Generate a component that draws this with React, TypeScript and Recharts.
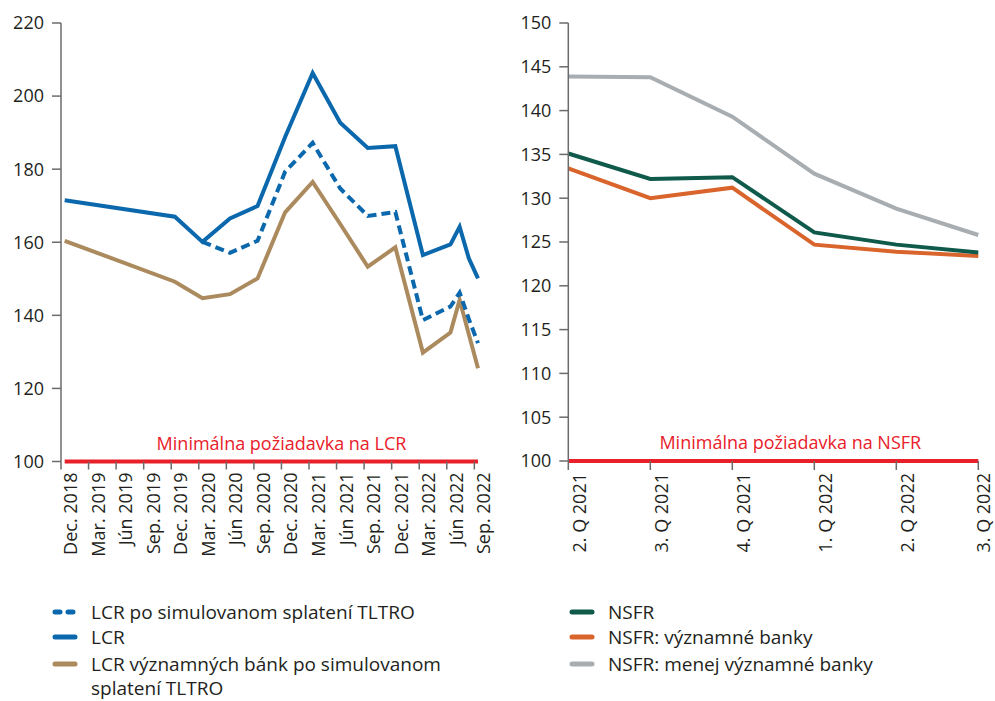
import React from 'react';
import { LineChart, Line, XAxis, YAxis, ReferenceLine } from 'recharts';

// ---------- LCR (left) ----------
const lcrPeriods = ['Dec. 2018', 'Dec. 2019', 'Mar. 2020', 'Jún 2020', 'Sep. 2020', 'Dec. 2020', 'Mar. 2021', 'Jún 2021', 'Sep. 2021', 'Dec. 2021', 'Mar. 2022', 'Jún 2022', 'Júl 2022', 'Aug. 2022', 'Sep. 2022'];
const lcrMonthIndex = [0, 12, 15, 18, 21, 24, 27, 30, 33, 36, 39, 42, 43, 44, 45];
const lcrValues = [171.5, 167.0, 160.1, 166.5, 169.9, 188.8, 206.3, 192.7, 185.8, 186.3, 156.5, 159.4, 164.2, 155.6, 150.1];
const lcrTltroValues: (number | null)[] = [null, null, 160.1, 157.1, 160.4, 179.3, 187.2, 174.7, 167.2, 168.3, 138.7, 142.4, 146.2, 139.0, 132.4];
const lcrSignificantTltroValues = [160.4, 149.2, 144.7, 145.8, 150.1, 168.2, 176.5, 165.0, 153.3, 158.6, 129.8, 135.3, 144.2, 134.8, 125.5];
const lcrTickLabels = ['Dec. 2018', 'Mar. 2019', 'Jún 2019', 'Sep. 2019', 'Dec. 2019', 'Mar. 2020', 'Jún 2020', 'Sep. 2020', 'Dec. 2020', 'Mar. 2021', 'Jún 2021', 'Sep. 2021', 'Dec. 2021', 'Mar. 2022', 'Jún 2022', 'Sep. 2022'];
const lcrYTicks = [100, 120, 140, 160, 180, 200, 220];
const lcrMinimum = 100;

// ---------- NSFR (right) ----------
const nsfrQuarters = ['2. Q 2021', '3. Q 2021', '4. Q 2021', '1. Q 2022', '2. Q 2022', '3. Q 2022'];
const nsfrValues = [135.1, 132.2, 132.4, 126.1, 124.7, 123.8];
const nsfrSignificantValues = [133.4, 130.0, 131.2, 124.7, 123.9, 123.4];
const nsfrLessSignificantValues = [143.9, 143.8, 139.3, 132.8, 128.8, 125.8];
const nsfrYTicks = [100, 105, 110, 115, 120, 125, 130, 135, 140, 145, 150];
const nsfrMinimum = 100;

const C_BLUE = '#0b68ad';
const C_BROWN = '#ab8a5e';
const C_GREEN = '#0f5a4b';
const C_ORANGE = '#d9642c';
const C_GRAY = '#a7adb1';
const C_RED = '#e9202a';
const C_AXIS = '#6b6b6b';
const C_TEXT = '#231f20';
const FONT = "'Open Sans', sans-serif";
const FS = 18;

const lcrData = lcrMonthIndex.map((m, i) => ({
  m,
  period: lcrPeriods[i],
  lcr: lcrValues[i],
  lcrTltro: lcrTltroValues[i],
  lcrSig: lcrSignificantTltroValues[i],
  min: lcrMinimum,
}));
const TICK_SHIFT = -0.4;
const lcrTicks = lcrTickLabels.map((_, i) => i * 3 + TICK_SHIFT);

const nsfrData = nsfrQuarters.map((q, i) => ({
  q,
  nsfr: nsfrValues[i],
  nsfrSig: nsfrSignificantValues[i],
  nsfrLess: nsfrLessSignificantValues[i],
  min: nsfrMinimum,
}));

const RotTick = (props: any) => {
  const { x, y, payload, labels, shift, maxX } = props;
  let label = payload.value;
  if (labels) {
    const idx = Math.round((payload.value - TICK_SHIFT) / 3);
    label = labels[idx];
  }
  const bx = Math.min(x + shift, maxX);
  return (
    <text
      x={bx}
      y={y + 1}
      transform={`rotate(-90, ${bx}, ${y + 1})`}
      textAnchor="end"
      fontSize={FS}
      fontFamily={FONT}
      fill={C_TEXT}
    >
      {label}
    </text>
  );
};

const MinLabel = (props: any) => {
  const { viewBox, text, dx } = props;
  if (!viewBox) return null;
  return (
    <text
      x={viewBox.x + viewBox.width / 2 + dx}
      y={viewBox.y - 12}
      textAnchor="middle"
      fontSize={FS}
      fontFamily={FONT}
      fill={C_RED}
    >
      {text}
    </text>
  );
};

const yTickStyle = { fontSize: FS, fontFamily: FONT, fill: C_TEXT };

const Swatch = ({ color, dashed }: { color: string; dashed?: boolean }) => (
  <svg width={26} height={8} style={{ display: 'block' }}>
    <line
      x1={3}
      x2={23}
      y1={4}
      y2={4}
      stroke={color}
      strokeWidth={5}
      strokeLinecap="round"
      strokeDasharray={dashed ? '5 8' : undefined}
    />
  </svg>
);

const LegendItem = ({ color, dashed, text, top, left, lh = 26 }: any) => (
  <div style={{ position: 'absolute', left, top, display: 'flex', alignItems: 'flex-start' }}>
    <div style={{ width: 39, paddingTop: lh / 2 - 4 }}>
      <Swatch color={color} dashed={dashed} />
    </div>
    <div style={{ fontFamily: FONT, fontSize: 19, color: C_TEXT, lineHeight: `${lh}px`, width: 400 }}>{text}</div>
  </div>
);

export default function App() {
  return (
    <div style={{ position: 'absolute', left: 0, top: 0, width: 995, height: 701, background: '#fff', overflow: 'hidden' }}>
      <div style={{ position: 'absolute', left: 0, top: 0 }}>
        <LineChart width={500} height={560} data={lcrData} margin={{ top: 23, right: 22, bottom: 0.5, left: 0 }}>
          <XAxis
            type="number"
            dataKey="m"
            domain={[TICK_SHIFT, 45]}
            ticks={lcrTicks}
            interval={0}
            tickSize={8}
            tickMargin={2}
            height={98}
            axisLine={false}
            tickLine={{ stroke: C_AXIS, strokeWidth: 1.5 }}
            tick={<RotTick labels={lcrTickLabels} shift={16} maxX={490} />}
          />
          <YAxis
            domain={[100, 220]}
            ticks={lcrYTicks}
            interval={0}
            width={61}
            tickSize={9}
            tickMargin={8}
            stroke={C_AXIS}
            strokeWidth={1.5}
            tick={yTickStyle}
          />
          <ReferenceLine
            y={lcrMinimum}
            stroke="none"
            label={<MinLabel text="Minimálna požiadavka na LCR" dx={12} />}
          />
          <Line dataKey="min" stroke={C_RED} strokeWidth={4} dot={false} isAnimationActive={false} />
          <Line dataKey="lcrSig" stroke={C_BROWN} strokeWidth={4} dot={false} isAnimationActive={false} />
          <Line dataKey="lcrTltro" stroke={C_BLUE} strokeWidth={4} strokeDasharray="9 5" dot={false} isAnimationActive={false} />
          <Line dataKey="lcr" stroke={C_BLUE} strokeWidth={4} dot={false} isAnimationActive={false} />
        </LineChart>
      </div>
      <div style={{ position: 'absolute', left: 500, top: 0 }}>
        <LineChart width={495} height={560} data={nsfrData} margin={{ top: 23, right: 16.7, bottom: 0, left: 0 }}>
          <XAxis
            dataKey="q"
            interval={0}
            tickSize={9}
            tickMargin={2}
            height={99}
            axisLine={false}
            tickLine={{ stroke: C_AXIS, strokeWidth: 1.5 }}
            tick={<RotTick shift={17.5} maxX={489.5} />}
          />
          <YAxis
            domain={[100, 150]}
            ticks={nsfrYTicks}
            interval={0}
            width={68.3}
            tickSize={9}
            tickMargin={8}
            stroke={C_AXIS}
            strokeWidth={1.5}
            tick={yTickStyle}
          />
          <ReferenceLine
            y={nsfrMinimum}
            stroke="none"
            label={<MinLabel text="Minimálna požiadavka na NSFR" dx={17} />}
          />
          <Line dataKey="min" stroke={C_RED} strokeWidth={4} dot={false} isAnimationActive={false} />
          <Line dataKey="nsfrLess" stroke={C_GRAY} strokeWidth={4} dot={false} isAnimationActive={false} />
          <Line dataKey="nsfrSig" stroke={C_ORANGE} strokeWidth={4} dot={false} isAnimationActive={false} />
          <Line dataKey="nsfr" stroke={C_GREEN} strokeWidth={4} dot={false} isAnimationActive={false} />
        </LineChart>
      </div>
      <LegendItem left={52} top={599} color={C_BLUE} dashed text="LCR po simulovanom splatení TLTRO" />
      <LegendItem left={52} top={624} color={C_BLUE} text="LCR" />
      <LegendItem left={52} top={652} lh={24} color={C_BROWN} text={<>LCR významných bánk po simulovanom<br />splatení TLTRO</>} />
      <LegendItem left={569} top={599} color={C_GREEN} text="NSFR" />
      <LegendItem left={569} top={624} color={C_ORANGE} text="NSFR: významné banky" />
      <LegendItem left={569} top={651} color={C_GRAY} text="NSFR: menej významné banky" />
    </div>
  );
}
